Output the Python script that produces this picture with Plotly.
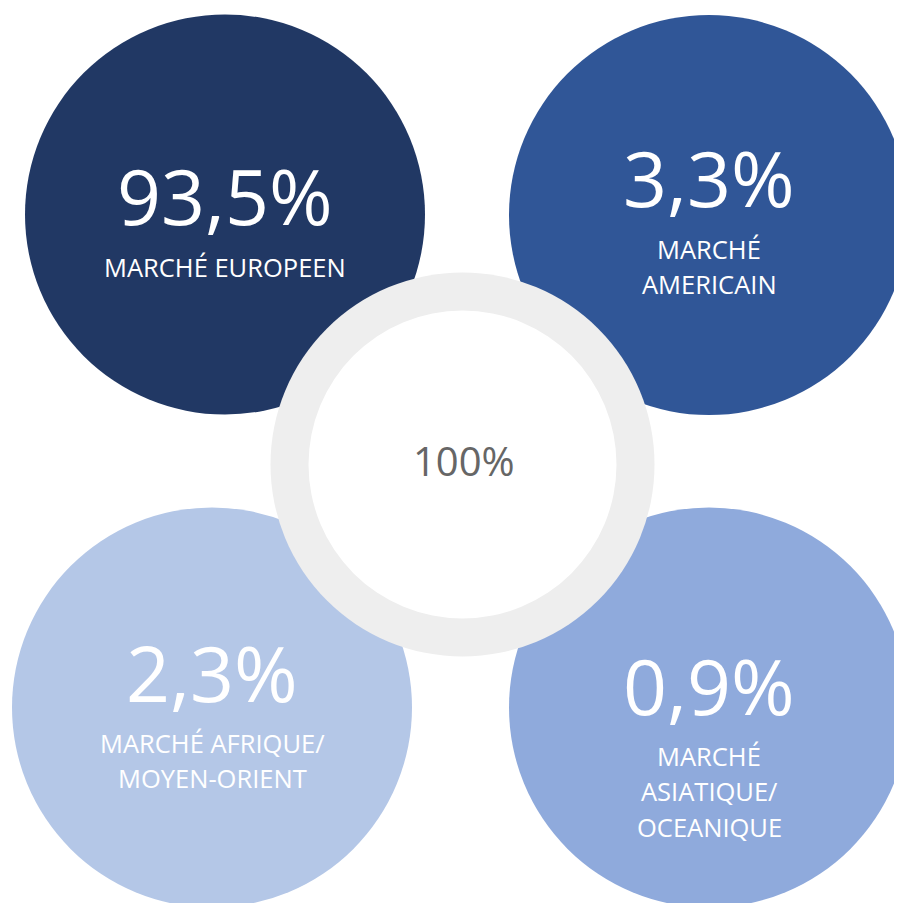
import plotly.graph_objects as go

# ---- data ----
values = [93.5, 3.3, 2.3, 0.9]
labels = ["MARCHÉ EUROPEEN", "MARCHÉ\nAMERICAIN", "MARCHÉ AFRIQUE/\nMOYEN-ORIENT", "MARCHÉ\nASIATIQUE/\nOCEANIQUE"]
total = 100

# ---- layout / style ----
W, H = 902, 903
OFF = 8  # page body margin offset
colors = ["#213864", "#305697", "#B4C7E7", "#8FAADC"]
centers = [(225, 214.5), (709, 215), (212, 707.5), (709, 707.5)]
radius = 200
num_y = [195.5, 177.5, 672, 685.5]       # centre of digit caps
lab_y = [266.5, 248.5, 742.5, 755.5]     # centre of first label line caps
line_gap = 35.5
ring_c = (462.5, 464.5)
ring_out, ring_in = 192, 154
FONT = "Open Sans"

def fmt(v):
    s = f"{v:.1f}".replace(".", ",")
    return s + "%"

fig = go.Figure()
shapes = []
for (cx, cy), col in zip(centers, colors):
    shapes.append(dict(type="circle", xref="x", yref="y", x0=cx - radius, x1=cx + radius,
                       y0=cy - radius, y1=cy + radius, fillcolor=col, line=dict(width=0), layer="below"))
rx, ry = ring_c
shapes.append(dict(type="circle", xref="x", yref="y", x0=rx - ring_out, x1=rx + ring_out,
                   y0=ry - ring_out, y1=ry + ring_out, fillcolor="#EEEEEE", line=dict(width=0), layer="below"))
shapes.append(dict(type="circle", xref="x", yref="y", x0=rx - ring_in, x1=rx + ring_in,
                   y0=ry - ring_in, y1=ry + ring_in, fillcolor="#FFFFFF", line=dict(width=0), layer="below"))

annotations = []
for i, v in enumerate(values):
    cx, _ = centers[i]
    annotations.append(dict(x=cx, y=num_y[i], xref="x", yref="y", text=fmt(v), showarrow=False,
                            xanchor="center", yanchor="middle",
                            font=dict(family=FONT, size=77, color="white")))
    for j, line in enumerate(labels[i].split("\n")):
        annotations.append(dict(x=cx, y=lab_y[i] + j * line_gap, xref="x", yref="y", text=line,
                                showarrow=False, xanchor="center", yanchor="middle",
                                font=dict(family=FONT, size=25.5, color="white")))
annotations.append(dict(x=rx + 1, y=460, xref="x", yref="y", text=f"{total}%", showarrow=False,
                        xanchor="center", yanchor="middle",
                        font=dict(family=FONT, size=40, color="#666666")))

fig.add_trace(go.Scatter(x=[OFF, W + OFF], y=[OFF, H + OFF], mode="markers", marker=dict(opacity=0),
                         hoverinfo="skip", showlegend=False))
fig.update_layout(width=W, height=H, margin=dict(l=0, r=0, t=0, b=0),
                  paper_bgcolor="white", plot_bgcolor="white",
                  xaxis=dict(range=[OFF, W + OFF], visible=False, fixedrange=True),
                  yaxis=dict(range=[H + OFF, OFF], visible=False, fixedrange=True),
                  shapes=shapes, annotations=annotations, showlegend=False)
fig.write_html("out.html")
